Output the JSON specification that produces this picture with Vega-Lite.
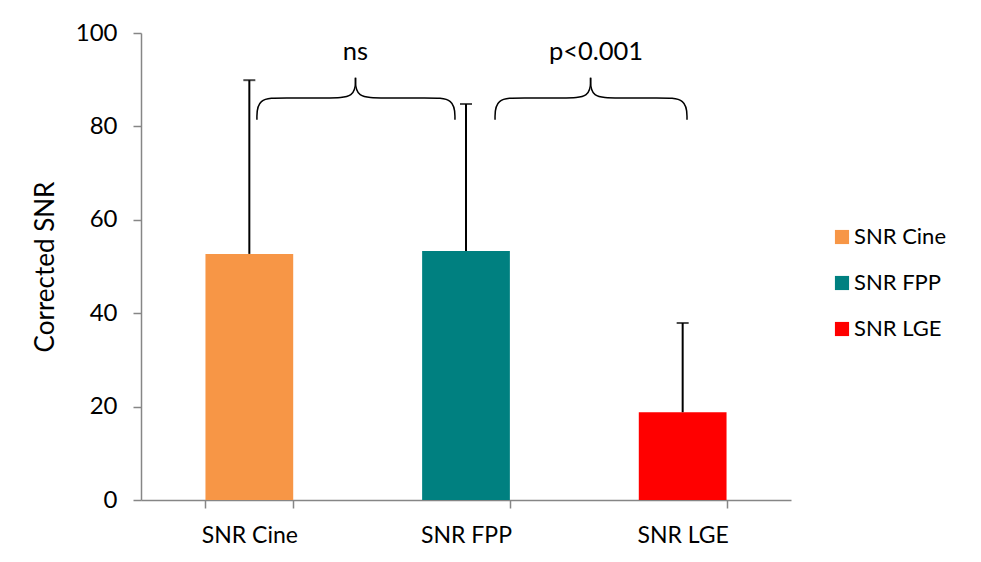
{
  "$schema": "https://vega.github.io/schema/vega-lite/v6.json",
  "width": 650,
  "height": 467,
  "autosize": {"type": "none"},
  "padding": {"left": 141, "top": 33, "right": 190, "bottom": 62},
  "background": "white",
  "config": {
    "view": {"stroke": null},
    "font": "Lato",
    "axis": {"domainColor": "#868686", "tickColor": "#868686", "labelColor": "#000000", "titleColor": "#000000", "grid": false, "labelFont": "Lato", "titleFont": "Lato"}
  },
  "datasets": {
    "bars": [
      {"group": "SNR Cine", "value": 52.7, "upper": 89.9},
      {"group": "SNR FPP", "value": 53.3, "upper": 84.8},
      {"group": "SNR LGE", "value": 18.8, "upper": 37.9}
    ],
    "braces": [
      {"seg": "a1", "ord": 1, "x": 0.535, "y": 81.4},
      {"seg": "a1", "ord": 2, "x": 0.535, "y": 86.1},
      {"seg": "a1", "ord": 3, "x": 0.66, "y": 86.1},
      {"seg": "a1", "ord": 4, "x": 0.86, "y": 86.1},
      {"seg": "a1", "ord": 5, "x": 0.99, "y": 86.1},
      {"seg": "a1", "ord": 6, "x": 0.99, "y": 90.4},
      {"seg": "a2", "ord": 1, "x": 1.449, "y": 81.4},
      {"seg": "a2", "ord": 2, "x": 1.449, "y": 86.1},
      {"seg": "a2", "ord": 3, "x": 1.32, "y": 86.1},
      {"seg": "a2", "ord": 4, "x": 1.12, "y": 86.1},
      {"seg": "a2", "ord": 5, "x": 0.99, "y": 86.1},
      {"seg": "a2", "ord": 6, "x": 0.99, "y": 90.4},
      {"seg": "b1", "ord": 1, "x": 1.634, "y": 81.4},
      {"seg": "b1", "ord": 2, "x": 1.634, "y": 86.1},
      {"seg": "b1", "ord": 3, "x": 1.76, "y": 86.1},
      {"seg": "b1", "ord": 4, "x": 1.95, "y": 86.1},
      {"seg": "b1", "ord": 5, "x": 2.075, "y": 86.1},
      {"seg": "b1", "ord": 6, "x": 2.075, "y": 90.4},
      {"seg": "b2", "ord": 1, "x": 2.52, "y": 81.4},
      {"seg": "b2", "ord": 2, "x": 2.52, "y": 86.1},
      {"seg": "b2", "ord": 3, "x": 2.39, "y": 86.1},
      {"seg": "b2", "ord": 4, "x": 2.2, "y": 86.1},
      {"seg": "b2", "ord": 5, "x": 2.075, "y": 86.1},
      {"seg": "b2", "ord": 6, "x": 2.075, "y": 90.4}
    ],
    "labels": [
      {"label": "ns", "x": 0.99, "y": 95.9},
      {"label": "p<0.001", "x": 2.1, "y": 95.9}
    ]
  },
  "layer": [
    {
      "data": {"name": "bars"},
      "mark": {"type": "bar"},
      "encoding": {
        "x": {"field": "group", "type": "nominal", "sort": null,
          "scale": {"paddingInner": 0.595, "paddingOuter": 0.2975},
          "axis": {"title": null, "labelAngle": 0, "labelFontSize": 23, "labelPadding": 16, "tickSize": 8, "tickBand": "extent", "domainWidth": 1.5, "tickWidth": 1.5}},
        "y": {"field": "value", "type": "quantitative",
          "scale": {"domain": [0, 100], "nice": false},
          "axis": {"title": "Corrected SNR", "titleFontSize": 26, "titleFontWeight": "normal", "titlePadding": 17, "labelFontSize": 24, "labelPadding": 16, "tickSize": 8, "values": [0, 20, 40, 60, 80, 100], "domainWidth": 1.5, "tickWidth": 1.5}},
        "color": {"field": "group", "type": "nominal",
          "scale": {"domain": ["SNR Cine", "SNR FPP", "SNR LGE"], "range": ["#F79646", "#008080", "#FF0000"]},
          "legend": {"title": null, "orient": "none", "legendX": 690, "legendY": 193, "symbolType": "square", "symbolSize": 200, "symbolStrokeWidth": 0, "symbolOpacity": 1, "labelFontSize": 22, "labelColor": "#000000", "rowPadding": 24, "labelOffset": 1}}
      }
    },
    {
      "data": {"name": "bars"},
      "mark": {"type": "rule", "color": "#000000", "strokeWidth": 2},
      "encoding": {
        "x": {"field": "group", "type": "nominal", "sort": null, "axis": null},
        "y": {"field": "value", "type": "quantitative"},
        "y2": {"field": "upper"}
      }
    },
    {
      "data": {"name": "bars"},
      "mark": {"type": "tick", "color": "#000000", "thickness": 2, "size": 12},
      "encoding": {
        "x": {"field": "group", "type": "nominal", "sort": null, "axis": null},
        "y": {"field": "upper", "type": "quantitative"}
      }
    },
    {
      "data": {"name": "braces"},
      "mark": {"type": "line", "color": "#000000", "strokeWidth": 1.5, "interpolate": "basis"},
      "encoding": {
        "x": {"field": "x", "type": "quantitative", "scale": {"domain": [0, 3], "nice": false, "zero": false}, "axis": null},
        "y": {"field": "y", "type": "quantitative"},
        "detail": {"field": "seg", "type": "nominal"},
        "order": {"field": "ord", "type": "quantitative"}
      }
    },
    {
      "data": {"name": "labels"},
      "mark": {"type": "text", "fontSize": 25.5, "color": "#000000", "font": "Lato"},
      "encoding": {
        "x": {"field": "x", "type": "quantitative", "scale": {"domain": [0, 3], "nice": false, "zero": false}, "axis": null},
        "y": {"field": "y", "type": "quantitative"},
        "text": {"field": "label", "type": "nominal"}
      }
    }
  ],
  "resolve": {"scale": {"x": "independent"}, "axis": {"x": "independent"}}
}
